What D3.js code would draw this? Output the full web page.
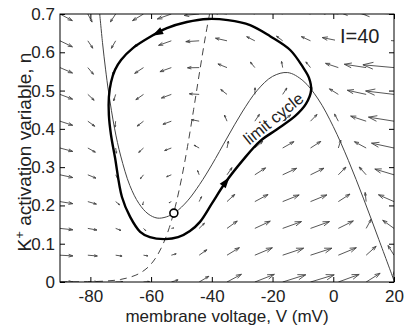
<!DOCTYPE html>
<html lang="en">
<head>
<meta charset="UTF-8">
<title>Phase portrait, I=40</title>
<style>
  body, html { margin: 0; padding: 0; background: #fff; }
  svg { display: block; }
  text { font-family: "Liberation Sans", Arial, Helvetica, sans-serif; fill: #222; }
</style>
</head>
<body>
<svg id="svg" width="405" height="325"></svg>
<script src="https://d3js.org/d3.v7.min.js"></script>
<script>
// axis ticks
const xTicks = [-80, -60, -40, -20, 0, 20]
const yTicks = [0, 0.1, 0.2, 0.3, 0.4, 0.5, 0.6, 0.7]

// vector field grid (V columns, n rows)
const gridV = [-90, -80.83, -71.67, -62.5, -53.33, -44.17, -35, -25.83, -16.67, -7.5, 1.67, 10.83, 20]
const gridN = [0, 0.07, 0.14, 0.21, 0.28, 0.35, 0.42, 0.49, 0.56, 0.63, 0.7]

// dV/dt at each grid point, one row per n value
const fieldDV = [
  [164, 111, 71, 52, 64, 116, 207, 316, 401, 417, 347, 201, 4],
  [164, 104, 58, 33, 39, 84, 168, 271, 349, 359, 282, 131, -73],
  [164, 98, 45, 14, 13, 52, 130, 226, 298, 302, 218, 60, -150],
  [164, 91, 32, -6, -13, 20, 91, 181, 247, 244, 154, -11, -227],
  [164, 85, 19, -25, -38, -12, 53, 137, 195, 186, 90, -81, -304],
  [164, 79, 7, -44, -64, -44, 14, 92, 144, 128, 26, -152, -381],
  [164, 72, -6, -63, -90, -77, -24, 47, 93, 71, -39, -222, -458],
  [164, 66, -19, -83, -115, -109, -63, 2, 42, 13, -103, -293, -535],
  [164, 59, -32, -102, -141, -141, -101, -43, -10, -45, -167, -363, -612],
  [164, 53, -45, -121, -167, -173, -140, -88, -61, -103, -231, -434, -689],
  [164, 46, -58, -140, -192, -205, -178, -133, -112, -161, -295, -505, -766]
]
// dn/dt at each grid point
const fieldDN = [
  [0, 0.001, 0.005, 0.029, 0.159, 0.542, 0.881, 0.979, 0.997, 1, 1, 1, 1],
  [-0.07, -0.069, -0.065, -0.041, 0.089, 0.472, 0.811, 0.909, 0.927, 0.93, 0.93, 0.93, 0.93],
  [-0.14, -0.139, -0.135, -0.111, 0.019, 0.402, 0.741, 0.839, 0.857, 0.86, 0.86, 0.86, 0.86],
  [-0.21, -0.209, -0.205, -0.181, -0.051, 0.332, 0.671, 0.769, 0.787, 0.79, 0.79, 0.79, 0.79],
  [-0.28, -0.279, -0.275, -0.251, -0.121, 0.262, 0.601, 0.699, 0.717, 0.72, 0.72, 0.72, 0.72],
  [-0.35, -0.349, -0.345, -0.321, -0.191, 0.192, 0.531, 0.629, 0.647, 0.65, 0.65, 0.65, 0.65],
  [-0.42, -0.419, -0.415, -0.391, -0.261, 0.122, 0.461, 0.559, 0.577, 0.58, 0.58, 0.58, 0.58],
  [-0.49, -0.489, -0.485, -0.461, -0.331, 0.052, 0.391, 0.489, 0.507, 0.51, 0.51, 0.51, 0.51],
  [-0.56, -0.559, -0.555, -0.531, -0.401, -0.018, 0.321, 0.419, 0.437, 0.44, 0.44, 0.44, 0.44],
  [-0.63, -0.629, -0.625, -0.601, -0.471, -0.088, 0.251, 0.349, 0.367, 0.37, 0.37, 0.37, 0.37],
  [-0.7, -0.699, -0.695, -0.671, -0.541, -0.158, 0.181, 0.279, 0.297, 0.3, 0.3, 0.3, 0.3]
]

// V-nullcline (thin solid)
const vNullV = [-77, -76, -75, -74, -72, -70, -67, -64, -61, -58, -55, -52, -48, -44, -40, -35, -30, -25, -20, -15, -10, -5, 0, 5, 10, 15, 20]
const vNullN = [0.707, 0.625, 0.556, 0.496, 0.400, 0.329, 0.252, 0.205, 0.178, 0.167, 0.170, 0.182, 0.212, 0.255, 0.306, 0.376, 0.444, 0.501, 0.537, 0.547, 0.526, 0.478, 0.406, 0.317, 0.217, 0.111, 0.004]

// n-nullcline (dashed)
const nNullV = [-90, -80, -75, -70, -65, -62, -60, -58, -56, -54, -52, -50, -48, -46, -44, -42, -40.5]
const nNullN = [0.0001, 0.0009, 0.0025, 0.0067, 0.018, 0.032, 0.047, 0.069, 0.100, 0.142, 0.198, 0.269, 0.354, 0.450, 0.550, 0.646, 0.71]

// limit cycle (thick), counter-clockwise from the bottom
const cycleV = [-55.4, -51.1, -47.2, -43.9, -39.9, -35.7, -29.7, -24.1, -18.5, -12.6, -9.0, -7.3, -8.0, -10.0, -14.2, -20.8, -27.4, -34.7, -41.3, -48.2, -54.8, -60.4, -66.0, -69.9, -71.9, -73.2, -73.9, -73.9, -73.2, -71.9, -69.6, -66.9, -63.6, -60.4]
const cycleN = [0.112, 0.117, 0.133, 0.157, 0.206, 0.258, 0.319, 0.368, 0.399, 0.433, 0.465, 0.501, 0.533, 0.561, 0.606, 0.642, 0.671, 0.684, 0.687, 0.679, 0.663, 0.640, 0.611, 0.580, 0.554, 0.522, 0.483, 0.436, 0.384, 0.326, 0.222, 0.170, 0.131, 0.117]

const equilibrium = [-52.5, 0.18]
const currentLabel = 'I=40'

const svg = d3.select('#svg')
const x = d3.scaleLinear().domain([-90, 20]).range([60, 394])
const y = d3.scaleLinear().domain([0, 0.7]).range([282, 14])

svg.append('defs').append('clipPath').attr('id', 'clip')
  .append('rect')
  .attr('x', x(-90)).attr('y', y(0.7))
  .attr('width', x(20) - x(-90)).attr('height', y(0) - y(0.7))

const plot = svg.append('g').attr('clip-path', 'url(#clip)')

// quiver arrows
const cellW = x(gridV[1]) - x(gridV[0])
const cellH = y(gridN[0]) - y(gridN[1])
const dVstep = gridV[1] - gridV[0]
const dNstep = gridN[1] - gridN[0]
let arrowPath = ''
gridN.forEach((n, i) => {
  gridV.forEach((v, j) => {
    const a = fieldDV[i][j] / dVstep
    const b = fieldDN[i][j] / dNstep
    const L = Math.hypot(a, b)
    if (L === 0) return
    const len = 0.067 * Math.pow(L, 0.67)
    const u = a / L * len * cellW
    const w = -b / L * len * cellH
    const x0 = x(v), y0 = y(n)
    const tx = x0 + u, ty = y0 + w
    const al = 0.33, be = 0.33
    const h1x = tx - al * (u + be * w), h1y = ty - al * (w - be * u)
    const h2x = tx - al * (u - be * w), h2y = ty - al * (w + be * u)
    arrowPath += `M${x0},${y0}L${tx},${ty}M${h1x},${h1y}L${tx},${ty}L${h2x},${h2y}`
  })
})
plot.append('path')
  .attr('d', arrowPath)
  .attr('fill', 'none')
  .attr('stroke', '#444')
  .attr('stroke-width', 0.9)

// nullclines
plot.append('path')
  .datum(vNullV.map((v, i) => [v, vNullN[i]]))
  .attr('d', d3.line().x(d => x(d[0])).y(d => y(d[1])).curve(d3.curveCatmullRom))
  .attr('fill', 'none')
  .attr('stroke', '#444')
  .attr('stroke-width', 1)

plot.append('path')
  .datum(nNullV.map((v, i) => [v, nNullN[i]]))
  .attr('d', d3.line().x(d => x(d[0])).y(d => y(d[1])).curve(d3.curveCatmullRom))
  .attr('fill', 'none')
  .attr('stroke', '#444')
  .attr('stroke-width', 1)
  .attr('stroke-dasharray', '7,5')

// limit cycle
const cyc = cycleV.map((v, i) => [x(v), y(cycleN[i])])
plot.append('path')
  .datum(cyc)
  .attr('d', d3.line().curve(d3.curveCatmullRomClosed))
  .attr('fill', 'none')
  .attr('stroke', '#000')
  .attr('stroke-width', 2.4)

// direction arrowheads on the cycle
const headAt = (i, t) => {
  const p = cyc[i], q = cyc[(i + 1) % cyc.length]
  const dx = q[0] - p[0], dy = q[1] - p[1]
  const l = Math.hypot(dx, dy)
  const ux = dx / l, uy = dy / l
  const cx = p[0] + dx * t, cy = p[1] + dy * t
  return [[cx + ux * 6, cy + uy * 6], [cx - ux * 5 - uy * 3.8, cy - uy * 5 + ux * 3.8], [cx - ux * 5 + uy * 3.8, cy - uy * 5 - ux * 3.8]]
}
plot.selectAll('.head')
  .data([headAt(20, 0.55), headAt(5, 0.05)])
  .enter()
  .append('path')
  .attr('d', d => 'M' + d.join('L') + 'Z')
  .attr('fill', '#000')

// equilibrium
plot.append('circle')
  .attr('cx', x(equilibrium[0]))
  .attr('cy', y(equilibrium[1]))
  .attr('r', 4)
  .attr('fill', '#fff')
  .attr('stroke', '#000')
  .attr('stroke-width', 1.6)

// labels inside
svg.append('text')
  .attr('transform', 'translate(277,123) rotate(-39)')
  .attr('text-anchor', 'middle')
  .style('font-size', '16.5px')
  .text('limit cycle')

svg.append('rect')
  .attr('x', 335).attr('y', 24).attr('width', 56).attr('height', 27)
  .attr('fill', '#fff')
svg.append('text')
  .attr('x', 340).attr('y', 43)
  .style('font-size', '20px')
  .text(currentLabel)

// box and ticks
svg.append('rect')
  .attr('x', x(-90)).attr('y', y(0.7))
  .attr('width', x(20) - x(-90)).attr('height', y(0) - y(0.7))
  .attr('fill', 'none')
  .attr('stroke', '#000')
  .attr('stroke-width', 1)

const fmt = d => String(d)
const xb = svg.append('g').attr('transform', `translate(0,${y(0)})`)
  .call(d3.axisBottom(x).tickValues(xTicks).tickFormat(fmt).tickSize(-5).tickPadding(8))
const xt = svg.append('g').attr('transform', `translate(0,${y(0.7)})`)
  .call(d3.axisTop(x).tickValues(xTicks).tickFormat('').tickSize(-5))
const yl = svg.append('g').attr('transform', `translate(${x(-90)},0)`)
  .call(d3.axisLeft(y).tickValues(yTicks).tickFormat(fmt).tickSize(-5).tickPadding(5))
const yr = svg.append('g').attr('transform', `translate(${x(20)},0)`)
  .call(d3.axisRight(y).tickValues(yTicks).tickFormat('').tickSize(-5))

;[xb, xt, yl, yr].forEach(g => {
  g.select('.domain').remove()
  g.selectAll('line').attr('stroke', '#000')
  g.selectAll('text')
    .style('font-family', '"Liberation Sans", Arial, sans-serif')
    .style('font-size', '17px')
    .attr('fill', '#222')
})

// axis titles
svg.append('text')
  .attr('x', 227).attr('y', 322)
  .attr('text-anchor', 'middle')
  .style('font-size', '17px')
  .text('membrane voltage, V (mV)')

const yt = svg.append('text')
  .attr('transform', 'translate(31,152) rotate(-90)')
  .attr('text-anchor', 'middle')
  .style('font-size', '19px')
yt.append('tspan').text('K')
yt.append('tspan').attr('dy', -7).style('font-size', '13px').text('+')
yt.append('tspan').attr('dy', 7).text(' activation variable, n')
</script>
</body>
</html>
